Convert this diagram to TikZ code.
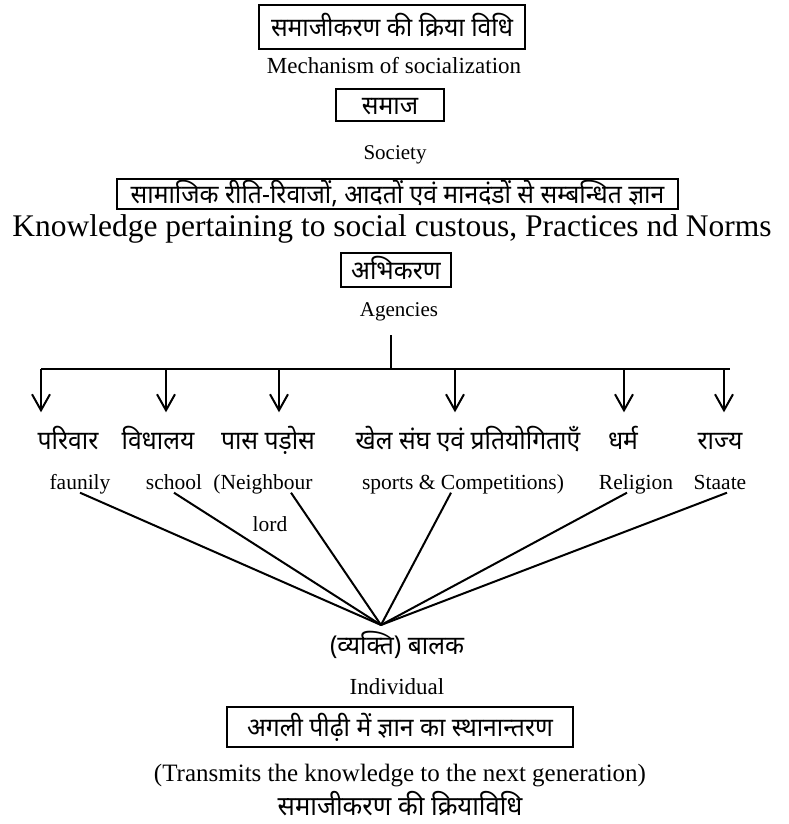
\documentclass[tikz,border=0pt]{standalone}
\usepackage{fontspec}
\setmainfont{Liberation Serif}
\newfontfamily\hindi[Script=Devanagari,FakeStretch=0.95]{Noto Sans}
\usetikzlibrary{arrows.meta,positioning}
\newcommand{\ArrHead}{Straight Barb[length=16pt,width=18pt,line width=2pt]}
\tikzset{box/.style={draw,line width=2.6pt,inner sep=0pt,text height=21pt,text depth=2pt,font=\hindi\fontsize{26}{29}\selectfont}}
\tikzset{eng/.style={inner sep=1pt,text height=15pt,text depth=2pt,font=\fontsize{21}{24}\selectfont}}
\tikzset{hin/.style={inner sep=1pt,text height=21pt,text depth=2pt,font=\hindi\fontsize{26}{29}\selectfont}}
\tikzset{agarrow/.style={line width=2pt,-{\ArrHead},shorten >=15pt}}
\tikzset{link/.style={line width=2pt}}

\begin{document}
\begin{tikzpicture}[x=1pt,y=-1pt]
\useasboundingbox(0,0)rectangle(789,824);
% heading chain
\node(title)[box,minimum width=266pt,minimum height=44pt]at(392,27){समाजीकरण की क्रिया विधि};
\node(mech)[eng,font=\fontsize{23}{26}\selectfont]at(394,67){Mechanism of socialization};
\node(samaj)[box,minimum width=108pt,minimum height=32pt]at(390,105){समाज};
\node(soc)[eng]at(395,153){Society};
\node(gyan)[box,minimum width=561pt,minimum height=30pt]at(397.5,194){सामाजिक रीति-रिवाजों, आदतों एवं मानदंडों से सम्बन्धित ज्ञान};
\node(know)[eng,font=\fontsize{31.5}{34}\selectfont]at(392,230){Knowledge pertaining to social custous, Practices nd Norms};
\node(abhi)[box,minimum width=110pt,minimum height=34pt]at(396,270){अभिकरण};
\node(agen)[eng]at(399,310){Agencies};
% bus
\coordinate(top)at(391,335);\coordinate(hub)at(391,369);\coordinate(busend)at(730,369);
\coordinate(b1)at(41,369);\coordinate(b2)at(166,369);\coordinate(b3)at(279,369);
\coordinate(b4)at(455,369);\coordinate(b5)at(624,369);\coordinate(b6)at(724,369);
\draw[link](top)--(hub);\draw[link](b1)--(busend);
% agencies
\begin{scope}[hin]
\node(l1)at(68,440){परिवार};\node(l2)at(158,440){विधालय};\node(l3)at(268,440){पास पड़ोस};
\node(l4)at(468,440){खेल संघ एवं प्रतियोगिताएँ};\node(l5)at(623,440){धर्म};\node(l6)at(720,440){राज्य};
\end{scope}
\foreach \i in {1,...,6}{\draw[agarrow](b\i)--(b\i|-l\i.north);}
\begin{scope}[eng,font=\fontsize{21.5}{24}\selectfont]
\node(e1)at(80,483){faunily};\node(e2)at(174,483){school};\node(e3)at(263,483){(Neighbour};
\node(e4)at(463,483){sports \& Competitions)};\node(e5)at(636,483){Religion};\node(e6)at(720,483){Staate};
\node(lord)at(270,525){lord};
\end{scope}
% individual
\coordinate(meet)at(381,625);
\draw[link](e1.south)--(meet);\draw[link](e2.south)--(meet);\draw[link]([xshift=28pt]e3.south)--(meet);
\draw[link]([xshift=-12pt]e4.south)--(meet);\draw[link]([xshift=-9pt]e5.south)--(meet);\draw[link]([xshift=7pt]e6.south)--(meet);
\node(balak)[hin]at(397,645){(व्यक्ति) बालक};
\node(indiv)[eng,font=\fontsize{23}{26}\selectfont]at(397,688){Individual};
\node(next)[box,minimum width=346pt,minimum height=40pt]at(400,727){अगली पीढ़ी में ज्ञान का स्थानान्तरण};
\node(trans)[eng,font=\fontsize{25}{28}\selectfont]at(400,775){(Transmits the knowledge to the next generation)};
\node(caption)[hin,font=\hindi\fontsize{27}{30}\selectfont]at(400,806){समाजीकरण की क्रियाविधि};
\end{tikzpicture}
\end{document}
